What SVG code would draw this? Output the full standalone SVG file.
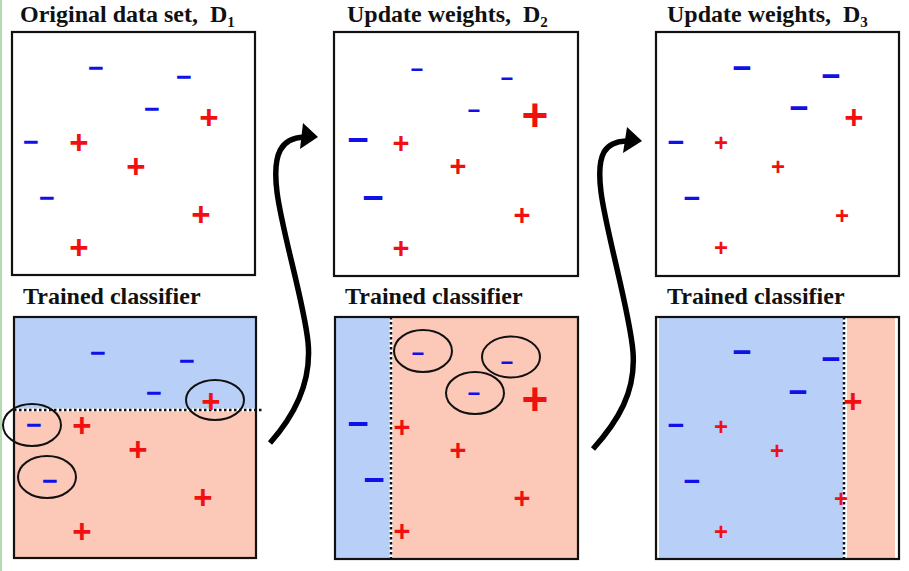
<svg xmlns="http://www.w3.org/2000/svg" width="909" height="571" viewBox="0 0 909 571">
<defs>
<style>
.title{font-family:"Liberation Serif","Times New Roman",serif;font-weight:bold;font-size:24px;fill:#111}
.sub{font-size:15px}
.box{fill:none;stroke:#111;stroke-width:2.2}
.p{font-family:"Liberation Sans",Arial,sans-serif;font-weight:bold;fill:#f01010;text-anchor:middle}
.m{font-family:"Liberation Sans",Arial,sans-serif;font-weight:bold;fill:#1010e8;text-anchor:middle}
.ell{fill:none;stroke:#111;stroke-width:2}
.dot{stroke:#111;stroke-width:2.5;stroke-dasharray:2.5 2.5}
.dotbg{stroke:#fff;stroke-width:3}
.blue{fill:#b8d0f8}
.red{fill:#fcc8b8}
.arrow{fill:none;stroke:#000;stroke-width:5.5;stroke-linecap:butt}
</style>
</defs>
<rect x="0" y="0" width="909" height="571" fill="#fff"/>
<rect x="0" y="0" width="2" height="571" fill="#b4dcb4"/>

<g id="panel-d1">
<text class="title" x="20" y="22">Original data set,&#160; D<tspan class="sub" dy="5">1</tspan></text>
<rect class="box" x="12" y="32" width="243" height="243"/>
<g font-size="27">
<text class="m" x="96" y="77">−</text>
<text class="m" x="184" y="86">−</text>
<text class="m" x="152" y="118">−</text>
<text class="m" x="31" y="151">−</text>
<text class="m" x="47" y="207">−</text>
</g>
<g font-size="33">
<text class="p" x="209" y="129">+</text>
<text class="p" x="79" y="154">+</text>
<text class="p" x="136" y="178">+</text>
<text class="p" x="201" y="226">+</text>
<text class="p" x="79" y="259">+</text>
</g>
</g>

<g id="panel-d2">
<text class="title" x="347" y="22">Update weights,&#160; D<tspan class="sub" dy="5">2</tspan></text>
<rect class="box" x="334" y="32" width="244" height="244"/>
<g font-size="22">
<text class="m" x="417" y="77">−</text>
<text class="m" x="507" y="86">−</text>
<text class="m" x="474" y="118">−</text>
</g>
<text class="m" x="358" y="152" font-size="37">−</text>
<text class="m" x="373" y="210" font-size="37">−</text>
<text class="p" x="535" y="131" font-size="46">+</text>
<g font-size="29">
<text class="p" x="401" y="153">+</text>
<text class="p" x="458" y="176">+</text>
<text class="p" x="522" y="225">+</text>
<text class="p" x="401" y="258">+</text>
</g>
</g>

<g id="panel-d3">
<text class="title" x="667" y="22">Update weights,&#160; D<tspan class="sub" dy="5">3</tspan></text>
<rect class="box" x="656" y="32" width="243" height="244"/>
<g font-size="33">
<text class="m" x="742" y="79">−</text>
<text class="m" x="831" y="87">−</text>
<text class="m" x="799" y="119">−</text>
<text class="p" x="854" y="129">+</text>
</g>
<g font-size="29">
<text class="m" x="676" y="152">−</text>
<text class="m" x="692" y="208">−</text>
</g>
<g font-size="24">
<text class="p" x="721" y="151">+</text>
<text class="p" x="778" y="175">+</text>
<text class="p" x="842" y="224">+</text>
<text class="p" x="721" y="256">+</text>
</g>
</g>

<g id="classifier-1">
<text class="title" x="23" y="304">Trained classifier</text>
<rect class="blue" x="14" y="317" width="242" height="93"/>
<rect class="red" x="14" y="410" width="242" height="148"/>
<line class="dotbg" x1="14" y1="410" x2="262" y2="410"/>
<line class="dot" x1="14" y1="410" x2="262" y2="410"/>
<rect class="box" x="14" y="317" width="242" height="241"/>
<g font-size="27">
<text class="m" x="98" y="362">−</text>
<text class="m" x="187" y="370">−</text>
<text class="m" x="154" y="402">−</text>
<text class="m" x="34" y="434">−</text>
<text class="m" x="50" y="490">−</text>
</g>
<g font-size="33">
<text class="p" x="211" y="413">+</text>
<text class="p" x="82" y="437">+</text>
<text class="p" x="138" y="461">+</text>
<text class="p" x="203" y="509">+</text>
<text class="p" x="82" y="543">+</text>
</g>
<ellipse class="ell" cx="215" cy="400" rx="29" ry="20"/>
<ellipse class="ell" cx="32" cy="425" rx="29" ry="21"/>
<ellipse class="ell" cx="47" cy="477" rx="29" ry="21"/>
</g>

<g id="classifier-2">
<text class="title" x="345" y="304">Trained classifier</text>
<rect class="blue" x="335" y="317" width="56" height="242"/>
<rect class="red" x="391" y="317" width="187" height="242"/>
<line class="dotbg" x1="391" y1="317" x2="391" y2="559"/>
<line class="dot" x1="391" y1="317" x2="391" y2="559"/>
<rect class="box" x="335" y="317" width="243" height="242"/>
<g font-size="22">
<text class="m" x="418" y="361">−</text>
<text class="m" x="507" y="370">−</text>
<text class="m" x="474" y="401">−</text>
</g>
<text class="m" x="358" y="436" font-size="37">−</text>
<text class="m" x="374" y="492" font-size="37">−</text>
<text class="p" x="535" y="415" font-size="46">+</text>
<g font-size="29">
<text class="p" x="402" y="437">+</text>
<text class="p" x="458" y="460">+</text>
<text class="p" x="522" y="508">+</text>
<text class="p" x="402" y="541">+</text>
</g>
<ellipse class="ell" cx="423" cy="351" rx="29" ry="21"/>
<ellipse class="ell" cx="511" cy="357" rx="29" ry="20.5"/>
<ellipse class="ell" cx="475" cy="393" rx="29" ry="21"/>
</g>

<g id="classifier-3">
<text class="title" x="667" y="304">Trained classifier</text>
<rect class="blue" x="659" y="317" width="184" height="242"/>
<rect class="red" x="847" y="317" width="48" height="242"/>
<line class="dot" x1="844" y1="317" x2="844" y2="559"/>
<rect class="box" x="656" y="317" width="243" height="242"/>
<g font-size="33">
<text class="m" x="742" y="363">−</text>
<text class="m" x="831" y="370">−</text>
<text class="m" x="798" y="403">−</text>
<text class="p" x="853" y="413">+</text>
</g>
<g font-size="29">
<text class="m" x="676" y="435">−</text>
<text class="m" x="692" y="491">−</text>
</g>
<g font-size="24">
<text class="p" x="721" y="435">+</text>
<text class="p" x="777" y="459">+</text>
<text class="p" x="841" y="507">+</text>
<text class="p" x="721" y="540">+</text>
</g>
</g>

<g id="connectors">
<path class="arrow" d="M270,443 C295,415 312,382 308,342 C304,302 282,232 277,192 C272,152 282,138 304,137"/>
<polygon points="303,123 318,137 300,149" fill="#000"/>
<path class="arrow" d="M593,449 C618,421 636,392 633,352 C630,312 606,232 601,192 C596,152 606,142 626,141"/>
<polygon points="627,127 642,141 623,153" fill="#000"/>
</g>
</svg>
